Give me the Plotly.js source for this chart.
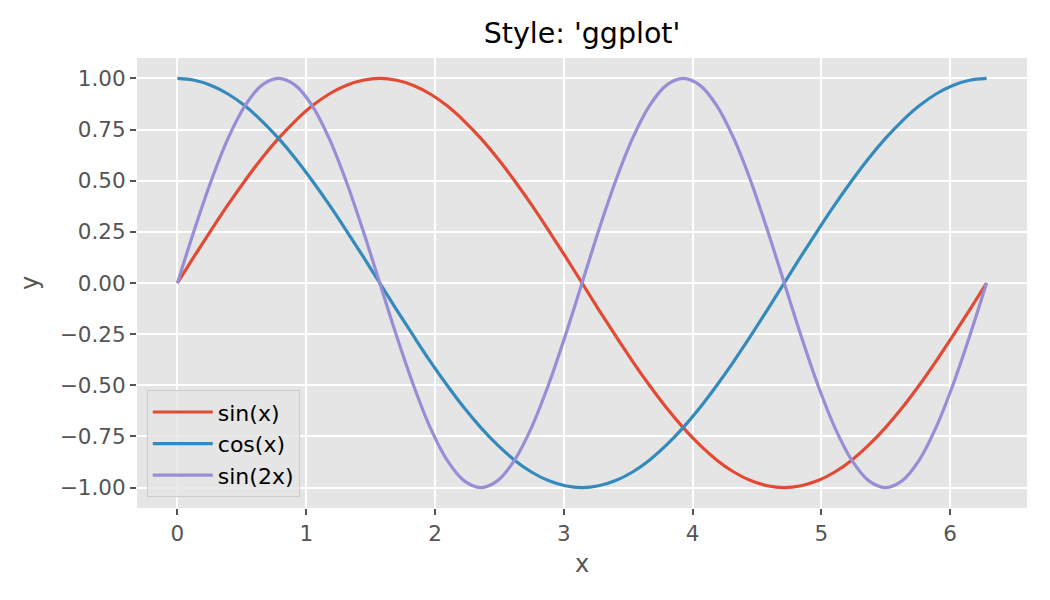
<!DOCTYPE html>
<html>
<head>
<meta charset="utf-8">
<script src="https://cdn.plot.ly/plotly-3.0.1.min.js"></script>
<style>
  body { margin: 0; background: #fff; }
  #chart { width: 1050px; height: 600px; }
</style>
</head>
<body>
<div id="chart"></div>
<script>
// values, x from 0 to ~6.28
var xs = [0, 0.131, 0.262, 0.393, 0.524, 0.654, 0.785, 0.916, 1.047, 1.178, 1.309, 1.440, 1.571,
          1.702, 1.833, 1.963, 2.094, 2.225, 2.356, 2.487, 2.618, 2.749, 2.880, 3.011, 3.142,
          3.272, 3.403, 3.534, 3.665, 3.796, 3.927, 4.058, 4.189, 4.320, 4.451, 4.581, 4.712,
          4.843, 4.974, 5.105, 5.236, 5.367, 5.498, 5.629, 5.760, 5.890, 6.021, 6.152, 6.283];
var sinVals = [0, 0.131, 0.259, 0.383, 0.500, 0.609, 0.707, 0.793, 0.866, 0.924, 0.966, 0.991, 1.000,
               0.991, 0.966, 0.924, 0.866, 0.793, 0.707, 0.609, 0.500, 0.383, 0.259, 0.131, 0,
               -0.131, -0.259, -0.383, -0.500, -0.609, -0.707, -0.793, -0.866, -0.924, -0.966, -0.991, -1.000,
               -0.991, -0.966, -0.924, -0.866, -0.793, -0.707, -0.609, -0.500, -0.383, -0.259, -0.131, 0];
var cosVals = [1.000, 0.991, 0.966, 0.924, 0.866, 0.793, 0.707, 0.609, 0.500, 0.383, 0.259, 0.131, 0,
               -0.131, -0.259, -0.383, -0.500, -0.609, -0.707, -0.793, -0.866, -0.924, -0.966, -0.991, -1.000,
               -0.991, -0.966, -0.924, -0.866, -0.793, -0.707, -0.609, -0.500, -0.383, -0.259, -0.131, 0,
               0.131, 0.259, 0.383, 0.500, 0.609, 0.707, 0.793, 0.866, 0.924, 0.966, 0.991, 1.000];
var sin2Vals = [0, 0.259, 0.500, 0.707, 0.866, 0.966, 1.000, 0.966, 0.866, 0.707, 0.500, 0.259, 0,
                -0.259, -0.500, -0.707, -0.866, -0.966, -1.000, -0.966, -0.866, -0.707, -0.500, -0.259, 0,
                0.259, 0.500, 0.707, 0.866, 0.966, 1.000, 0.966, 0.866, 0.707, 0.500, 0.259, 0,
                -0.259, -0.500, -0.707, -0.866, -0.966, -1.000, -0.966, -0.866, -0.707, -0.500, -0.259, 0];
var names = ['sin(x)', 'cos(x)', 'sin(2x)'];
var colors = ['#E24A33', '#348ABD', '#988ED5'];
var xTicks = [0, 1, 2, 3, 4, 5, 6];
var yTicks = [-1.00, -0.75, -0.50, -0.25, 0.00, 0.25, 0.50, 0.75, 1.00];

var series = [sinVals, cosVals, sin2Vals];
var data = series.map(function (ys, i) {
    return {
        x: xs,
        y: ys,
        name: names[i],
        type: 'scatter',
        mode: 'lines',
        line: { color: colors[i], width: 3.2, shape: 'spline', smoothing: 1 }
    };
});

var axisCommon = {
    showgrid: true,
    gridcolor: '#FFFFFF',
    gridwidth: 1.6,
    zeroline: false,
    showline: false,
    ticks: 'outside',
    ticklen: 6,
    tickwidth: 1.5,
    tickcolor: '#555555',
    tickfont: { family: 'DejaVu Sans', size: 21.5, color: '#555555' }
};

var layout = {
    width: 1050,
    height: 600,
    paper_bgcolor: '#FFFFFF',
    plot_bgcolor: '#E5E5E5',
    margin: { l: 137, r: 23, t: 58, b: 92 },
    title: {
        text: "Style: 'ggplot'",
        font: { family: 'DejaVu Sans', size: 28.5, color: '#000000' },
        x: 0.5, xref: 'paper', xanchor: 'center',
        y: 1, yref: 'container', yanchor: 'top', pad: { t: 23 }
    },
    xaxis: Object.assign({}, axisCommon, {
        range: [-0.314, 6.597],
        tickvals: xTicks,
        ticktext: xTicks.map(String),
        title: { text: 'x', font: { family: 'DejaVu Sans', size: 24, color: '#555555' }, standoff: 10 }
    }),
    yaxis: Object.assign({}, axisCommon, {
        range: [-1.1, 1.1],
        tickvals: yTicks,
        ticktext: yTicks.map(function (v) { return (v < 0 ? '\u2212' : '') + Math.abs(v).toFixed(2); }),
        title: { text: 'y', font: { family: 'DejaVu Sans', size: 24, color: '#555555' }, standoff: 14 }
    }),
    showlegend: true,
    legend: {
        x: 0.011, y: 0.024, xanchor: 'left', yanchor: 'bottom',
        bgcolor: 'rgba(229,229,229,0.8)',
        bordercolor: '#CCCCCC',
        borderwidth: 1,
        itemwidth: 60,
        font: { family: 'DejaVu Sans', size: 22, color: '#000000' },
        tracegroupgap: 0
    }
};

Plotly.newPlot('chart', data, layout, { displayModeBar: false });
</script>
</body>
</html>
